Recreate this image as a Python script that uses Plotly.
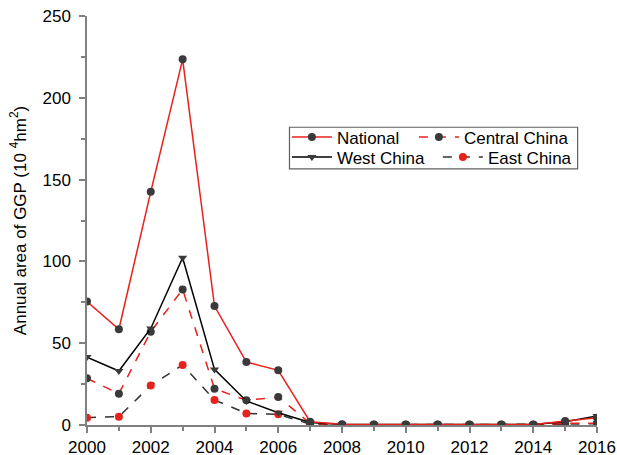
import plotly.graph_objects as go

years = list(range(2000, 2017))
national = [75.5, 58.5, 142.5, 223.5, 72.7, 38.5, 33.4, 2.0, 0.4, 0.3, 0.3, 0.3, 0.3, 0.3, 0.3, 2.5, 4.5]
west = [41.5, 33.0, 59.0, 102.2, 34.0, 14.7, 7.5, 1.5, 0.3, 0.3, 0.3, 0.3, 0.3, 0.3, 0.3, 2.0, 5.5]
central = [28.5, 19.1, 57.0, 82.9, 22.2, 15.1, 17.1, 1.0, 0.2, 0.2, 0.2, 0.2, 0.2, 0.2, 0.2, 1.0, 1.0]
east = [4.5, 5.1, 24.2, 36.7, 15.3, 7.1, 6.5, 0.5, 0.1, 0.1, 0.1, 0.1, 0.1, 0.1, 0.1, 0.5, 0.8]

RED = "#e8211c"
DARK = "#3a3a3a"
BLACK = "#000000"
FONT = "Liberation Sans, Arial, sans-serif"

fig = go.Figure()
fig.add_trace(go.Scatter(x=years, y=east, name="East China", mode="lines+markers",
                         line=dict(color="#333333", width=1.5, dash="dash"),
                         marker=dict(color=RED, size=8, symbol="circle"),
                         legend="legend4"))
fig.add_trace(go.Scatter(x=years, y=central, name="Central China", mode="lines+markers",
                         line=dict(color=RED, width=1.5, dash="dash"),
                         marker=dict(color=DARK, size=8, symbol="circle"),
                         legend="legend2"))
fig.add_trace(go.Scatter(x=years, y=west, name="West China", mode="lines+markers",
                         line=dict(color=BLACK, width=1.5),
                         marker=dict(color=DARK, size=8, symbol="triangle-down"),
                         legend="legend3"))
fig.add_trace(go.Scatter(x=years, y=national, name="National", mode="lines+markers",
                         line=dict(color=RED, width=1.5),
                         marker=dict(color=DARK, size=8, symbol="circle"),
                         legend="legend"))

axis_common = dict(showline=True, linecolor="#808080", linewidth=1.5, ticks="outside",
                   tickcolor="#808080", ticklen=6, tickwidth=1.5, showgrid=False, zeroline=False,
                   automargin=False,
                   tickfont=dict(family=FONT, size=17, color="#000000"))


def leg(x, y):
    return dict(x=x, y=y, xanchor="left", yanchor="top", bgcolor="rgba(0,0,0,0)",
                borderwidth=0, font=dict(family=FONT, size=17), itemwidth=40,
                tracegroupgap=0)


fig.update_layout(
    width=617, height=455,
    margin=dict(l=87, r=20, t=16, b=30, autoexpand=False),
    paper_bgcolor="white", plot_bgcolor="white",
    font=dict(family=FONT, size=17, color="#000000"),
    xaxis=dict(range=[2000, 2016], tickmode="linear", tick0=2000, dtick=2,
               minor=dict(ticks="outside", dtick=1, ticklen=4, tickcolor="#808080", tickwidth=1.5),
               ticklabelstandoff=0,
               **axis_common),
    yaxis=dict(range=[0, 250], tickmode="linear", tick0=0, dtick=50,
               minor=dict(ticks="outside", dtick=25, ticklen=4, tickcolor="#808080", tickwidth=1.5),
               ticklabelstandoff=5,
               title=dict(text="Annual area of GGP (10 <sup>4</sup>hm<sup>2</sup>)",
                          font=dict(family=FONT, size=17), standoff=12),
               **axis_common),
    legend=leg(0.392, 0.747),
    legend2=leg(0.641, 0.747),
    legend3=leg(0.392, 0.698),
    legend4=leg(0.688, 0.698),
    shapes=[dict(type="rect", xref="paper", yref="paper", x0=0.397, x1=0.962, y0=0.626, y1=0.728,
                 line=dict(color="#606060", width=1.2), fillcolor="rgba(0,0,0,0)")],
    showlegend=True,
)

fig.write_html("out.html", config={"displayModeBar": False},
               post_script="document.body.style.margin='0';document.body.style.overflow='hidden';")
